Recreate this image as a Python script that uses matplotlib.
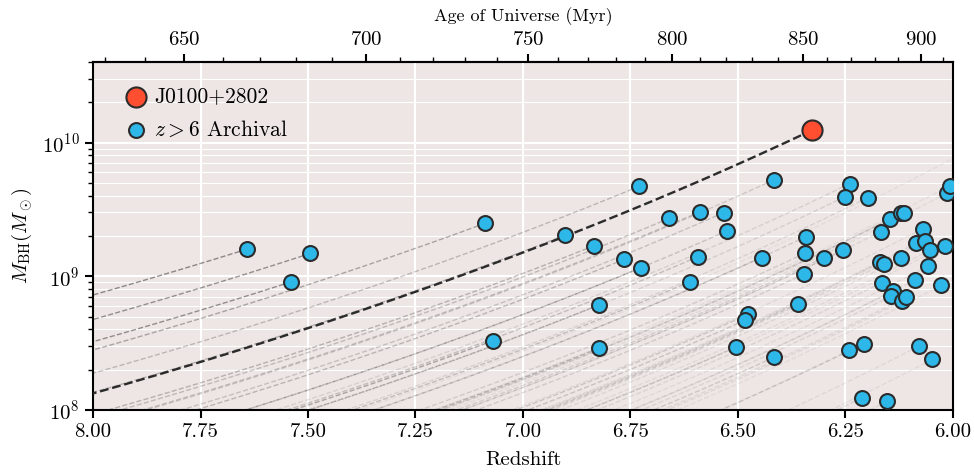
import numpy as np
import matplotlib.pyplot as plt
from matplotlib.ticker import MultipleLocator, FixedLocator

plt.rcParams['font.family'] = 'serif'
plt.rcParams['font.serif'] = ['cmr10']
plt.rcParams['mathtext.fontset'] = 'cm'
plt.rcParams['axes.formatter.use_mathtext'] = True

# data
j0100_z = 6.327
j0100_mass = 1.24e10

archival_z = [7.643, 7.540, 7.495, 7.088, 7.069, 6.903, 6.730, 6.835, 6.764, 6.725,
              6.660, 6.588, 6.593, 6.611, 6.824, 6.824, 6.533, 6.526, 6.417, 6.445,
              6.341, 6.345, 6.346, 6.301, 6.240, 6.252, 6.198, 6.255, 6.147, 6.121,
              6.115, 6.167, 6.070, 6.085, 6.066, 6.053, 6.019, 6.015, 6.007, 6.120,
              6.169, 6.161, 6.058, 6.165, 6.139, 6.145, 6.119, 6.110, 6.088, 6.027,
              6.360, 6.476, 6.484, 6.505, 6.417, 6.241, 6.207, 6.080, 6.048, 6.212,
              6.153, 5.975]
archival_mass = [1.59e9, 9.06e8, 1.48e9, 2.49e9, 3.30e8, 2.02e9, 4.70e9, 1.69e9, 1.34e9, 1.16e9,
                 2.71e9, 3.04e9, 1.40e9, 9.12e8, 6.09e8, 2.89e8, 2.99e9, 2.18e9, 5.25e9, 1.38e9,
                 1.98e9, 1.48e9, 1.04e9, 1.38e9, 4.93e9, 3.92e9, 3.87e9, 1.57e9, 2.68e9, 2.95e9,
                 2.97e9, 2.16e9, 2.27e9, 1.77e9, 1.84e9, 1.57e9, 1.69e9, 4.17e9, 4.76e9, 1.36e9,
                 1.27e9, 1.24e9, 1.19e9, 8.96e8, 7.80e8, 7.08e8, 6.49e8, 6.95e8, 9.38e8, 8.55e8,
                 6.24e8, 5.19e8, 4.68e8, 2.94e8, 2.47e8, 2.79e8, 3.13e8, 2.99e8, 2.39e8, 1.23e8,
                 1.16e8, 8.4e9]

age_ticks = [650, 700, 750, 800, 850, 900]
age_minor_ticks = list(range(630, 911, 10))

# cosmology (flat LCDM, H0=70, Om=0.3, with radiation)
H0 = 70.0
OM = 0.3
OR = 8.53e-5
OL = 1.0 - OM - OR
SALPETER_MYR = 50.0

hubble_time = 977.79 / H0 * 1000.0  # Myr
a_grid = np.linspace(0.0, 0.25, 50001)
integrand = a_grid / np.sqrt(OM * a_grid + OR + OL * a_grid**4)
t_grid = hubble_time * np.concatenate([[0.0], np.cumsum(0.5 * (integrand[1:] + integrand[:-1]) * np.diff(a_grid))])


def age_myr(z):
    return np.interp(1.0 / (1.0 + np.asarray(z, dtype=float)), a_grid, t_grid)


def z_from_age(t):
    a = np.interp(np.asarray(t, dtype=float), t_grid, a_grid)
    return 1.0 / np.maximum(a, 1e-6) - 1.0


def growth_track(z0, m0):
    zz = np.linspace(z0, 8.1, 200)
    return zz, m0 * np.exp((age_myr(zz) - age_myr(z0)) / SALPETER_MYR)


fig = plt.figure(figsize=(9.74, 4.72), dpi=100)
ax = fig.add_axes([0.0955, 0.1314, 0.8829, 0.7372])
ax.set_facecolor('#ede6e4')

# Eddington growth tracks
for z0, m0 in zip(archival_z, archival_mass):
    zz, mm = growth_track(z0, m0)
    ax.plot(zz, mm, ls='--', lw=1.0, color='k', alpha=0.05 + 0.22 * (z0 - 6.0), zorder=2)

zz, mm = growth_track(j0100_z, j0100_mass)
ax.plot(zz, mm, ls='--', lw=1.7, color='#2b2b2b', zorder=3)

ax.scatter(archival_z, archival_mass, s=115, c='#2db8e9', edgecolors='#2b2b2b',
           linewidths=1.5, zorder=4, label=r'$z > 6$ Archival')
ax.scatter([j0100_z], [j0100_mass], s=210, c='#ff4f30', edgecolors='#2b2b2b',
           linewidths=1.5, zorder=5, label='J0100+2802')

ax.set_yscale('log')
ax.set_xlim(8, 6)
ax.set_ylim(1e8, 4e10)
ax.xaxis.set_major_locator(MultipleLocator(0.25))
ax.xaxis.set_major_formatter(plt.FormatStrFormatter('%.2f'))

ax.grid(which='major', color='white', lw=1.5)
ax.grid(which='minor', axis='y', color='white', lw=0.8)
ax.set_axisbelow(True)

for sp in ax.spines.values():
    sp.set_linewidth(1.5)
    sp.set_color('black')
ax.tick_params(which='major', direction='out', length=6, width=1.5, labelsize=15)
ax.tick_params(which='minor', direction='out', length=3.5, width=1.0)

ax.set_xlabel('Redshift', fontsize=15, labelpad=7)
ax.set_ylabel(r'$M_{\rm BH} (M_\odot)$', fontsize=15, labelpad=6)

secax = ax.secondary_xaxis('top', functions=(age_myr, z_from_age))
secax.xaxis.set_major_locator(FixedLocator(age_ticks))
secax.xaxis.set_minor_locator(FixedLocator(age_minor_ticks))
secax.tick_params(which='major', direction='out', length=6, width=1.5, labelsize=15)
secax.tick_params(which='minor', direction='out', length=3.5, width=1.0)
secax.spines['top'].set_linewidth(1.5)
secax.set_xlabel('Age of Universe (Myr)', fontsize=13, labelpad=7)

handles, labels = ax.get_legend_handles_labels()
ax.legend(handles[::-1], labels[::-1], loc='upper left', frameon=False, fontsize=15.5,
          borderaxespad=0.75, handletextpad=0.0, handlelength=1.7, labelspacing=0.6)

plt.savefig('out.png', dpi=100)
